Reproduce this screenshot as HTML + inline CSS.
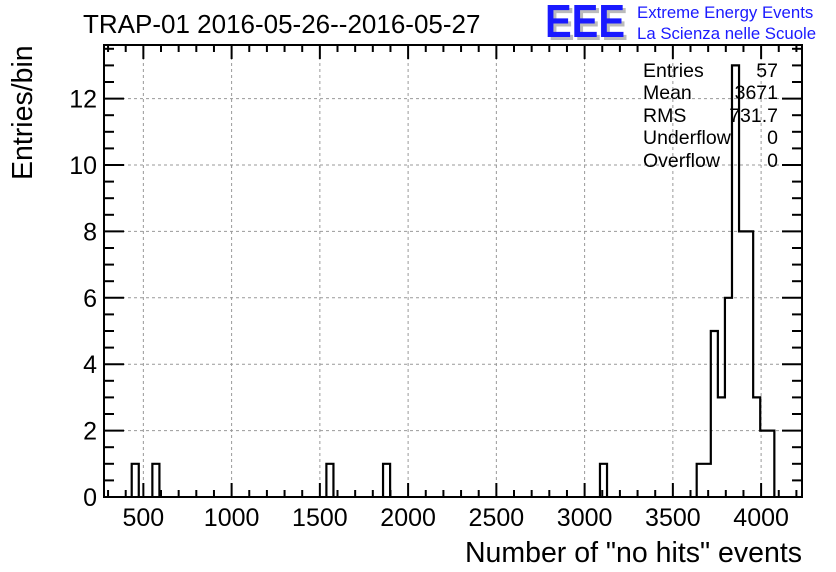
<!DOCTYPE html>
<html><head><meta charset="utf-8"><style>
body{margin:0;background:#fff;}
svg{display:block;font-family:"Liberation Sans",sans-serif;}
</style></head><body>
<svg id="c" width="836" height="572" xmlns="http://www.w3.org/2000/svg">
<text x="83" y="33" font-size="26">TRAP-01 2016-05-26--2016-05-27</text>
<g>
<text x="548" y="40" font-size="46" font-weight="bold" fill="#bbb" textLength="80" lengthAdjust="spacingAndGlyphs">EEE</text>
<text x="545" y="37" font-size="46" font-weight="bold" fill="#1a1aff" textLength="80" lengthAdjust="spacingAndGlyphs">EEE</text>
<text x="637" y="18" font-size="16.8" fill="#1a1aff">Extreme Energy Events</text>
<text x="637" y="39" font-size="16.8" fill="#1a1aff">La Scienza nelle Scuole</text>
</g>
<g id="grid"></g>
<g id="ticks"></g>
<path id="hist" fill="none" stroke="#000" stroke-width="2.2"/>
<rect x="104" y="45" width="698" height="452" fill="none" stroke="#000" stroke-width="2"/>
<g font-size="19.5">
<text x="643" y="77">Entries</text><text x="778" y="77" text-anchor="end">57</text>
<text x="643" y="99">Mean</text><text x="778" y="99" text-anchor="end">3671</text>
<text x="643" y="122">RMS</text><text x="778" y="122" text-anchor="end">731.7</text>
<text x="643" y="144">Underflow</text><text x="778" y="144" text-anchor="end">0</text>
<text x="643" y="167">Overflow</text><text x="778" y="167" text-anchor="end">0</text>
</g>
<text x="802" y="562" font-size="28.5" text-anchor="end">Number of "no hits" events</text>
<text transform="translate(32,180) rotate(-90)" font-size="28.5">Entries/bin</text>
</svg>
<script>
const binStarts=[434,551,1537,1858,3087,3635,3675,3715,3755,3795,3835,3875,3915,3955,3995,4035];
const binCounts=[1,1,1,1,1,1,1,5,3,6,13,8,8,3,2,2];
const binWidth=40;
const xTickLabels=[500,1000,1500,2000,2500,3000,3500,4000];
const yTickLabels=[0,2,4,6,8,10,12];
const X0=104,X1=802,Y0=497,Y1=45;
const xmin=277,xmax=277+(X1-X0)/0.1765,ymin=0,ymax=(Y0-Y1)/33.2;
const xs=v=>X0+(v-xmin)/(xmax-xmin)*(X1-X0);
const ys=v=>Y0-(v-ymin)/(ymax-ymin)*(Y0-Y1);
const NS="http://www.w3.org/2000/svg";
const grid=document.getElementById('grid'),ticks=document.getElementById('ticks');
function ln(p,x1,y1,x2,y2,attrs){const l=document.createElementNS(NS,'line');l.setAttribute('x1',x1);l.setAttribute('y1',y1);l.setAttribute('x2',x2);l.setAttribute('y2',y2);for(const k in attrs)l.setAttribute(k,attrs[k]);p.appendChild(l);return l;}
xTickLabels.forEach(v=>{
 const x=xs(v);
 const g=ln(grid,x,Y1,x,Y0,{stroke:'#999','stroke-dasharray':'3,3','stroke-width':1});
 
 
 const t=document.createElementNS(NS,'text');t.setAttribute('x',x);t.setAttribute('y',Y0+29);t.setAttribute('font-size','25');t.setAttribute('text-anchor','middle');t.textContent=v;
 
 
 ticks.appendChild(t);
});
for(let v=300;v<=4200;v+=100){const x=xs(v);const L=v%500===0?14:7;
 ln(ticks,x,Y0,x,Y0-L,{stroke:'#000','stroke-width':2});ln(ticks,x,Y1,x,Y1+L,{stroke:'#000','stroke-width':2});}
yTickLabels.forEach(v=>{
 const y=ys(v);
 if(v>0){const g=ln(grid,X0,y,X1,y,{stroke:'#999','stroke-dasharray':'3,3','stroke-width':1});
 
 }
 const t=document.createElementNS(NS,'text');t.setAttribute('x',X0-7);t.setAttribute('y',y+9);t.setAttribute('font-size','25');t.setAttribute('text-anchor','end');t.textContent=v;
 
 
 ticks.appendChild(t);
});
for(let v=0;v<=13.5;v+=0.5){const y=ys(v);const L=(v%2===0)?20:10;
 ln(ticks,X0,y,X0+L,y,{stroke:'#000','stroke-width':2});ln(ticks,X1,y,X1-L,y,{stroke:'#000','stroke-width':2});}
let d='';let prevEnd=null;
binStarts.forEach((s,i)=>{const a=xs(s),b=xs(s+binWidth),y=ys(binCounts[i]);
 if(prevEnd!==null && Math.abs(s-prevEnd)<1){d+=`L${a},${y}L${b},${y}`;}
 else{if(prevEnd!==null)d+=`L${xs(prevEnd)},${Y0}`;d+=`M${a},${Y0}L${a},${y}L${b},${y}`;}
 prevEnd=s+binWidth;});
if(prevEnd!==null)d+=`L${xs(prevEnd)},${Y0}`;
document.getElementById('hist').setAttribute('d',d);
</script>
</body></html>
